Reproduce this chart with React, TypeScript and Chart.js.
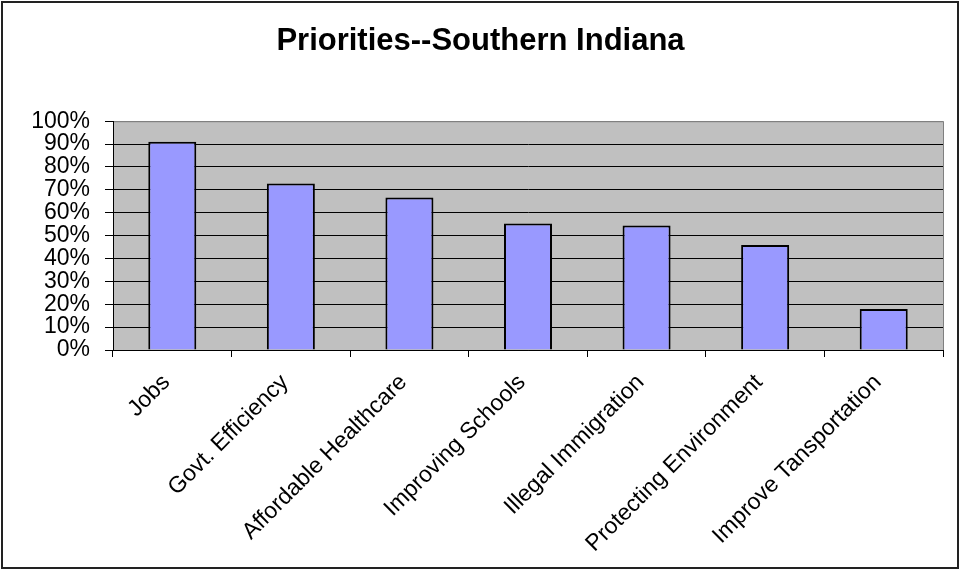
import React, { useEffect, useRef } from "react";
import { Chart, registerables } from "chart.js";

Chart.register(...registerables);

const categories = [
  "Jobs",
  "Govt. Efficiency",
  "Affordable Healthcare",
  "Improving Schools",
  "Illegal Immigration",
  "Protecting Environment",
  "Improve Tansportation",
];
const values = [0.91, 0.728, 0.667, 0.553, 0.544, 0.459, 0.179];
const yMin = 0;
const yMax = 1;
const yStep = 0.1;
const titleText = "Priorities--Southern Indiana";

const W = 961;
const H = 571;

const framePlugin = {
  id: "framePlugin",
  beforeDraw(chart: any) {
    const { ctx, chartArea } = chart;
    ctx.save();
    ctx.fillStyle = "#ffffff";
    ctx.fillRect(0, 0, chart.width, chart.height);
    ctx.lineWidth = 2;
    ctx.strokeStyle = "#222222";
    ctx.strokeRect(2, 2, 956, 566);
    ctx.fillStyle = "#C0C0C0";
    ctx.fillRect(chartArea.left, chartArea.top, chartArea.right - chartArea.left, chartArea.bottom - chartArea.top);
    ctx.lineWidth = 1;
    ctx.strokeStyle = "#808080";
    ctx.strokeRect(chartArea.left + 0.5, chartArea.top + 0.5, chartArea.right - chartArea.left, chartArea.bottom - chartArea.top);
    ctx.restore();
  },
};

export default function App() {
  const ref = useRef<HTMLCanvasElement | null>(null);
  useEffect(() => {
    document.body.style.margin = "0";
    const canvas = ref.current;
    if (!canvas) return;
    const chart = new Chart(canvas, {
      type: "bar",
      data: {
        labels: categories,
        datasets: [
          {
            data: values,
            backgroundColor: "#9999FF",
            borderColor: "#000000",
            borderWidth: 2,
            barPercentage: 0.405,
            categoryPercentage: 1,
          },
        ],
      },
      options: {
        responsive: false,
        animation: false,
        devicePixelRatio: 1,
        layout: { padding: { left: 18, right: 18, top: 0, bottom: 0 } },
        plugins: {
          legend: { display: false },
          tooltip: { enabled: false },
          title: {
            display: true,
            text: titleText,
            color: "#000000",
            font: { family: "'Liberation Sans', Arial, sans-serif", size: 31, weight: "bold" },
            padding: { top: 23, bottom: 61 },
          },
        },
        scales: {
          x: {
            offset: true,
            grid: {
              display: true,
              offset: true,
              drawOnChartArea: false,
              drawTicks: true,
              tickLength: 7,
              color: "#000000",
            },
            border: { display: true, color: "#000000", width: 1 },
            ticks: {
              autoSkip: false,
              maxRotation: 45,
              minRotation: 45,
              padding: 12,
              labelOffset: -6,
              color: "#000000",
              font: { family: "'Liberation Sans', Arial, sans-serif", size: 23 },
            },
            afterFit(scale: any) {
              scale.height = 221;
            },
          },
          y: {
            min: yMin,
            max: yMax,
            grid: {
              color: (c: any) => (c.tick && Math.abs(c.tick.value - yMax) < 1e-9 ? "#808080" : "#000000"),
              tickColor: "#000000",
              tickLength: 8,
              drawTicks: true,
            },
            border: { display: true, color: "#000000", width: 1 },
            ticks: {
              stepSize: yStep,
              autoSkip: false,
              padding: 15,
              color: "#000000",
              font: { family: "'Liberation Sans', Arial, sans-serif", size: 23 },
              callback: (v: any) => Math.round(Number(v) * 100) + "%",
            },
            afterFit(scale: any) {
              scale.width = 95;
            },
          },
        },
      },
      plugins: [framePlugin],
    });
    return () => chart.destroy();
  }, []);
  return (
    <div style={{ width: W, height: H }}>
      <canvas ref={ref} width={W} height={H} style={{ display: "block", width: W, height: H }} />
    </div>
  );
}
